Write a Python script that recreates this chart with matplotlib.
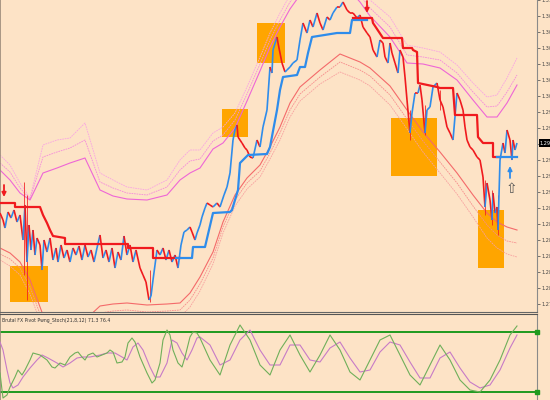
import matplotlib
matplotlib.use("Agg")
import matplotlib.pyplot as plt
import numpy as np
from matplotlib.collections import LineCollection
from matplotlib.patches import Rectangle

# ---------------- data ----------------
bar = [0,3,5,8,11,14,17,20,23,25,
       27,29,31,33,35,37,40,42,44,47,
       50,53,56,58,61,64,67,70,73,76,
       79,82,85,88,91,94,97,100,103,106,
       109,112,115,118,121,124,127,130,133,136,
       140,143,146,149,151,153,155,157,160,163,
       166,169,172,175,178,181,184,187,190,192,
       195,197,200,202,205,207,210,213,217,220,
       224,227,230,233,235,237,238,242,245,247,
       250,253,257,260,263,267,270,272,273,277,
       278,282,285,287,290,293,297,300,303,307,
       310,313,317,320,323,327,330,333,337,340,
       343,347,350,353,357,360,363,367,370,373,
       377,380,383,385,388,390,392,395,398,400,
       403,405,407,410,412,415,418,420,422,425,
       427,430,433,437,440,443,447,450,453,457,
       460,463,465,467,470,473,477,480,483,485,
       487,490,492,493,495,497,498,500,503,505,
       507,510,512,513,515,517]
close = [1.2887,1.2880,1.2872,1.2888,1.2882,1.2890,1.2878,1.2885,1.2860,1.2895,
         1.2838,1.2875,1.2850,1.2870,1.2845,1.2862,1.2855,1.2830,1.2860,1.2848,
         1.2862,1.2840,1.2852,1.2838,1.2855,1.2842,1.2850,1.2838,1.2852,1.2845,
         1.2854,1.2840,1.2855,1.2843,1.2850,1.2838,1.2852,1.2865,1.2842,1.2850,
         1.2838,1.2852,1.2832,1.2848,1.2840,1.2864,1.2845,1.2855,1.2838,1.2850,
         1.2832,1.2825,1.2818,1.2800,1.2804,1.2820,1.2835,1.2850,1.2845,1.2852,
         1.2840,1.2850,1.2838,1.2845,1.2832,1.2855,1.2868,1.2870,1.2873,1.2868,
         1.2860,1.2867,1.2875,1.2883,1.2892,1.2897,1.2895,1.2893,1.2897,1.2893,
         1.2905,1.2913,1.2927,1.2960,1.2970,1.2975,1.2963,1.2957,1.2952,1.2950,
         1.2943,1.2942,1.2960,1.2953,1.2973,1.2990,1.3033,1.3027,1.3050,1.3063,
         1.3057,1.3037,1.3028,1.3030,1.3033,1.3037,1.3040,1.3060,1.3077,1.3067,
         1.3080,1.3073,1.3087,1.3077,1.3070,1.3083,1.3080,1.3087,1.3093,1.3093,
         1.3098,1.3090,1.3087,1.3087,1.3082,1.3085,1.3073,1.3067,1.3063,1.3050,
         1.3043,1.3060,1.3057,1.3043,1.3037,1.3057,1.3047,1.3037,1.3027,1.3050,
         1.3043,1.3023,1.3000,1.2967,1.2987,1.3007,1.3007,1.3015,1.3000,1.2967,
         1.2990,1.2993,1.3013,1.3017,1.3000,1.2993,1.2973,1.2967,1.2960,1.3007,
         1.3000,1.2990,1.2973,1.2960,1.2953,1.2950,1.2943,1.2940,1.2923,1.2893,
         1.2917,1.2900,1.2880,1.2907,1.2887,1.2893,1.2870,1.2940,1.2957,1.2947,
         1.2970,1.2960,1.2940,1.2960,1.2950,1.2957]

wick_x = [24, 27, 150, 410, 425, 440, 485, 492, 498]
wick_hi = [1.2918, 1.2905, 1.2830, 1.2990, 1.2995, 1.3010, 1.2920, 1.2910, 1.2905]
wick_lo = [1.2825, 1.2800, 1.2798, 1.2960, 1.2965, 1.2990, 1.2885, 1.2875, 1.2865]

# trailing stop line pieces
trail_red1_x = [0,15,15,40,43,47,50,53,65,65,128,128,153,153,180]
trail_red1_p = [1.2897,1.2897,1.2893,1.2893,1.2885,1.2877,1.2870,1.2864,1.2862,1.2856,1.2856,1.2852,1.2852,1.2842,1.2842]
trail_blue1_x = [176,192,193,205,213,230,232,238,240,248,267,270,277,280,283,297,300,305,308,312,337,350,352,367]
trail_blue1_p = [1.2842,1.2842,1.2853,1.2853,1.2887,1.2888,1.2890,1.2910,1.2937,1.2945,1.2946,1.2953,1.2990,1.3010,1.3023,1.3025,1.3033,1.3033,1.3047,1.3063,1.3067,1.3067,1.3080,1.3080]
trail_red2_x = [353,372,373,383,402,403,412,413,417,418,437,440,453,455,477,478,483,493,493,500]
trail_red2_p = [1.3082,1.3082,1.3077,1.3062,1.3062,1.3052,1.3052,1.3050,1.3048,1.3017,1.3013,1.3012,1.3012,1.2985,1.2985,1.2963,1.2957,1.2957,1.2943,1.2943]
trail_blue2_x = [497,517]
trail_blue2_p = [1.2943,1.2943]

band_x = [0,10,20,30,43,57,70,85,100,113,127,147,167,180,190,200,213,223,235,247,
          260,270,280,290,300,320,340,360,370,390,407,423,440,457,473,487,497,507,517]
upper_outer = [1.2945,1.2935,1.2917,1.2902,1.2955,1.2960,1.2962,1.2977,1.2927,1.2920,
               1.2913,1.2910,1.2920,1.2940,1.2950,1.2950,1.2967,1.2973,1.2987,1.3013,
               1.3043,1.3067,1.3087,1.3105,1.3120,1.3135,1.3135,1.3112,1.3100,1.3083,
               1.3055,1.3052,1.3048,1.3035,1.3017,1.3003,1.3005,1.3022,1.3042]
upper_mid = [1.2937,1.2928,1.2912,1.2901,1.2943,1.2948,1.2952,1.2960,1.2918,1.2912,
             1.2907,1.2905,1.2913,1.2930,1.2939,1.2941,1.2959,1.2965,1.2980,1.3006,
             1.3036,1.3060,1.3080,1.3098,1.3112,1.3127,1.3127,1.3105,1.3092,1.3073,
             1.3045,1.3043,1.3040,1.3027,1.3008,1.2993,1.2994,1.3008,1.3025]
upper_inner = [1.2930,1.2920,1.2907,1.2900,1.2927,1.2932,1.2937,1.2942,1.2910,1.2904,
               1.2901,1.2900,1.2905,1.2920,1.2927,1.2932,1.2951,1.2957,1.2972,1.2999,
               1.3029,1.3053,1.3073,1.3091,1.3105,1.3120,1.3120,1.3098,1.3084,1.3063,
               1.3037,1.3036,1.3032,1.3020,1.3000,1.2983,1.2983,1.2997,1.3015]
lower_inner = [1.2852,1.2847,1.2838,1.2820,1.2785,1.2765,1.2762,1.2780,1.2794,1.2796,
               1.2797,1.2795,1.2796,1.2797,1.2807,1.2823,1.2848,1.2878,1.2905,1.2922,
               1.2935,1.2953,1.2973,1.2997,1.3013,1.3030,1.3046,1.3038,1.3032,1.3014,
               1.2990,1.2968,1.2948,1.2927,1.2905,1.2887,1.2878,1.2873,1.2870]
lower_mid = [1.2846,1.2841,1.2832,1.2813,1.2778,1.2758,1.2755,1.2773,1.2787,1.2789,
             1.2790,1.2788,1.2789,1.2790,1.2800,1.2816,1.2842,1.2873,1.2900,1.2917,
             1.2929,1.2947,1.2967,1.2990,1.3006,1.3023,1.3038,1.3030,1.3024,1.3005,
             1.2981,1.2959,1.2938,1.2917,1.2894,1.2875,1.2865,1.2859,1.2857]
lower_outer = [1.2840,1.2834,1.2825,1.2806,1.2771,1.2751,1.2748,1.2766,1.2780,1.2782,
               1.2783,1.2781,1.2782,1.2783,1.2793,1.2809,1.2836,1.2867,1.2894,1.2911,
               1.2923,1.2941,1.2960,1.2983,1.2999,1.3016,1.3028,1.3020,1.3014,1.2995,
               1.2971,1.2948,1.2927,1.2906,1.2883,1.2862,1.2852,1.2846,1.2843]

box_x0 = [10, 222, 257, 391, 478]
box_x1 = [48, 248, 285, 437, 504]
box_top = [1.2834, 1.2991, 1.3077, 1.2982, 1.2890]
box_bot = [1.2798, 1.2963, 1.3037, 1.2924, 1.2832]

sell_x = [4, 367]
sell_p = [1.2903, 1.3087]
buy_x = [510]
buy_p = [1.2922]
hint_x = [511]
hint_p = [1.2911]

green_x = [0,2,3,7,10,15,18,22,25,30,33,40,47,52,55,60,65,70,75,78,82,85,88,93,97,102,107,110,113,117,
           122,125,128,132,135,140,147,152,155,160,163,167,170,173,178,182,185,190,193,197,200,210,220,230,
           240,250,260,270,280,290,300,310,320,330,340,350,360,370,380,390,400,410,420,430,440,450,460,470,
           480,490,500,510,517]
green_v = [39,22,14,17,25,35,42,37,42,52,59,57,52,45,44,49,47,55,59,60,55,52,57,59,55,57,59,62,60,49,
           50,55,69,74,70,55,39,29,32,49,72,82,77,62,49,45,55,75,80,79,74,52,37,67,
           87,72,47,37,62,77,57,40,57,77,62,40,32,52,72,77,57,37,27,47,67,52,32,22,
           20,32,52,77,86]
purple_x = [0,3,7,10,13,18,23,30,37,42,48,57,63,70,77,83,90,100,107,115,122,127,133,138,143,150,155,160,
            167,172,177,182,187,192,197,200,210,220,230,240,250,260,270,280,290,300,310,320,330,340,350,
            360,370,380,390,400,410,420,430,440,450,460,470,480,490,500,510,517]
purple_v = [70,62,42,29,24,27,35,44,52,57,54,49,45,49,54,55,55,57,59,59,55,52,65,69,62,45,35,35,
            49,72,69,59,52,62,74,75,67,47,52,72,82,62,47,47,67,67,52,50,64,70,54,
            40,42,60,70,67,50,34,34,54,60,44,30,24,27,42,64,77]
levels = [80, 20]
osc_title = "Brutal FX Pivot Pwng_Stoch(21,8,12) 71.3 76.4"

# ---------------- style ----------------
bg = "#FDE3C6"
red = "#F01A1E"
blue = "#2E8CEB"

fig = plt.figure(figsize=(5.5, 4), dpi=100)
fig.patch.set_facecolor(bg)
ax = fig.add_axes([0, 88/400, 537/550, 312/400])
ax2 = fig.add_axes([0, 0, 537/550, 86/400])
for a in (ax, ax2):
    a.set_facecolor(bg)
    a.set_xlim(0, 537)
    a.set_xticks([])

ax.set_ylim(1.2788, 1.3100)

# boxes
for x0, x1, t, b in zip(box_x0, box_x1, box_top, box_bot):
    ax.add_patch(Rectangle((x0, b), x1 - x0, t - b, facecolor="#FFA500", edgecolor="none", zorder=1))

# bands
ax.plot(band_x, upper_outer, color="#F9A3E3", lw=0.6, ls=(0, (2, 1)), zorder=2)
ax.plot(band_x, upper_mid, color="#F58ADB", lw=0.6, ls=(0, (2, 1)), zorder=2)
ax.plot(band_x, upper_inner, color="#EE66D6", lw=0.8, zorder=2)
ax.plot(band_x, lower_inner, color="#F46A6A", lw=0.8, zorder=2)
ax.plot(band_x, lower_mid, color="#F78C8C", lw=0.6, ls=(0, (2, 1)), zorder=2)
ax.plot(band_x, lower_outer, color="#F8A0A0", lw=0.6, ls=(0, (2, 1)), zorder=2)

# wicks
ax.vlines(wick_x, wick_lo, wick_hi, colors=red, lw=0.7, alpha=0.8, zorder=3)

# price line coloured by direction
pts = np.column_stack([bar, close])
segs = np.stack([pts[:-1], pts[1:]], axis=1)
diffs = np.diff(close)
cols = [blue if d > 0 else red for d in diffs]
ax.add_collection(LineCollection(segs, colors=cols, linewidths=1.2, zorder=4))

# trailing stop
ax.plot(trail_red1_x, trail_red1_p, color=red, lw=1.6, zorder=5)
ax.plot(trail_blue1_x, trail_blue1_p, color=blue, lw=1.6, zorder=5)
ax.plot(trail_red2_x, trail_red2_p, color=red, lw=1.6, zorder=5)
ax.plot(trail_blue2_x, trail_blue2_p, color=blue, lw=1.6, zorder=6)

# signal arrows
arrow_kw = dict(lw=1.3, mutation_scale=6, shrinkA=0, shrinkB=0)
for x, p in zip(sell_x, sell_p):
    ax.annotate("", xy=(x, p), xytext=(x, p + 0.0012),
                arrowprops=dict(arrowstyle="-|>", color=red, **arrow_kw), zorder=7)
for x, p in zip(buy_x, buy_p):
    ax.annotate("", xy=(x, p + 0.0012), xytext=(x, p),
                arrowprops=dict(arrowstyle="-|>", color=blue, **arrow_kw), zorder=7)
for x, p in zip(hint_x, hint_p):
    ax.text(x, p, "\u21e7", color="#555555", fontsize=10, ha="center", va="center", zorder=7)

# axis styling
ax.yaxis.tick_right()
ticks = np.round(np.arange(1.3100, 1.2790, -0.0016), 4)
ax.set_yticks(ticks)
ax.set_yticklabels([f"{t:.4f}" for t in ticks])
ax.tick_params(axis="y", direction="out", length=2, width=0.5, labelsize=3.6, pad=1.5,
               colors="#444444")
ax.spines["top"].set_visible(False)
ax.spines["left"].set_color("#9a8a7a")
ax.spines["left"].set_linewidth(1.2)
ax.spines["right"].set_color("#8a8a8a")
ax.spines["right"].set_linewidth(0.8)
ax.spines["bottom"].set_color("#666666")
ax.spines["bottom"].set_linewidth(0.8)

# current price label
last = close[-1]
ax.text(540, last, f"{last:.4f}", fontsize=3.6, color="white", va="center", ha="left",
        clip_on=False,
        bbox=dict(boxstyle="square,pad=0.25", facecolor="black", edgecolor="none"), zorder=10)

# oscillator panel
ax2.set_ylim(12, 98)
ax2.set_yticks([])
for lv in levels:
    ax2.axhline(lv, color="#1E9A1E", lw=1.4, zorder=2)
    ax2.plot([537], [lv], marker="s", ms=3, color="#1E9A1E", clip_on=False, zorder=3)
ax2.plot(purple_x, purple_v, color="#C77BC7", lw=0.8, zorder=3)
ax2.plot(green_x, green_v, color="#6FAF5A", lw=0.8, zorder=4)
ax2.text(0.004, 0.965, osc_title, transform=ax2.transAxes, fontsize=3.3, color="#333333",
         va="top", ha="left")
ax2.spines["top"].set_color("#555555")
ax2.spines["top"].set_linewidth(0.8)
ax2.spines["left"].set_color("#9a8a7a")
ax2.spines["left"].set_linewidth(1.2)
ax2.spines["right"].set_color("#8a8a8a")
ax2.spines["right"].set_linewidth(0.8)
ax2.spines["bottom"].set_visible(False)

fig.savefig("out.png", dpi=100, facecolor=bg)
